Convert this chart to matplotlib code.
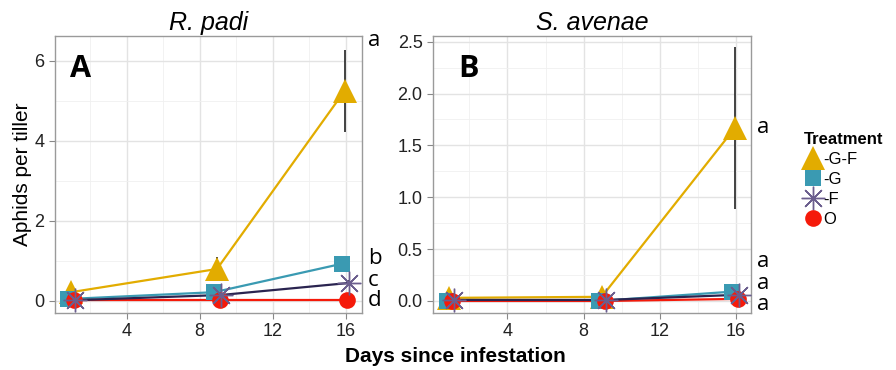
import numpy as np
import matplotlib
matplotlib.use('Agg')
from matplotlib import pyplot as plt
from matplotlib.lines import Line2D
from matplotlib import transforms

plt.rcParams['font.family'] = ['Liberation Sans', 'DejaVu Sans']

# Dati
days = [1, 9, 16]
treatments = ['-G-F', '-G', '-F', 'O']

padi_mean = {'-G-F': [0.22, 0.80, 5.25], '-G': [0.05, 0.22, 0.93],
             '-F': [0.02, 0.15, 0.45], 'O': [0.02, 0.02, 0.02]}
padi_err = {'-G-F': [0.05, 0.30, 1.03], '-G': [0.02, 0.05, 0.15],
            '-F': [0.02, 0.05, 0.08], 'O': [0.01, 0.01, 0.01]}
avenae_mean = {'-G-F': [0.03, 0.04, 1.67], '-G': [0.00, 0.00, 0.09],
               '-F': [0.01, 0.01, 0.06], 'O': [0.00, 0.00, 0.02]}
avenae_err = {'-G-F': [0.01, 0.02, 0.78], '-G': [0.01, 0.01, 0.06],
              '-F': [0.01, 0.01, 0.05], 'O': [0.00, 0.00, 0.01]}

padi_letters = ['a', 'b', 'c', 'd']
padi_letter_y = [6.5, 1.05, 0.5, 0.02]
avenae_letters = ['a', 'a', 'a', 'a']
avenae_letter_y = [1.67, 0.38, 0.17, -0.03]

# Stili
colors = {'-G-F': '#E2AC00', '-G': '#3A9AB2', '-F': '#6B5E8E', 'O': '#F51A0A'}
line_colors = {'-G-F': '#E2AC00', '-G': '#3A9AB2', '-F': '#2A2450', 'O': '#F51A0A'}
markers = {'-G-F': '^', '-G': 's', '-F': (8, 2, 0), 'O': 'o'}
msizes = {'-G-F': 17, '-G': 12, '-F': 17, 'O': 12}
dodge = {'-G-F': -0.05, '-G': -0.2, '-F': 0.18, 'O': 0.1}

W, H = 896, 370
fig = plt.figure(figsize=(W / 100, H / 100), dpi=100)
axA = fig.add_axes([55 / W, (H - 313) / H, (362 - 55) / W, (313 - 36) / H])
axB = fig.add_axes([433 / W, (H - 313) / H, (751 - 433) / W, (313 - 36) / H])


def draw_panel(ax, means, errs):
    for t in ['-G-F', '-G', 'O', '-F']:
        x = np.array(days) + dodge[t]
        ax.errorbar(x, means[t], yerr=errs[t], fmt='none', ecolor='#222222',
                    elinewidth=1.2, capsize=0, zorder=2)
        ax.plot(x, means[t], color=line_colors[t], lw=1.6, zorder=3)
    for i, t in enumerate(['-G-F', '-G', 'O', '-F']):
        x = np.array(days) + dodge[t]
        mew = 1.0 if t == '-F' else 0
        ax.plot(x, means[t], linestyle='none', marker=markers[t], ms=msizes[t],
                color=colors[t], mec=colors[t], mew=mew, zorder=4 + i)
    ax.set_xticks([4, 8, 12, 16])
    ax.set_xticks([2, 6, 10, 14], minor=True)
    ax.grid(True, which='major', color='#E3E3E3', lw=1.0)
    ax.grid(True, which='minor', color='#F0F0F0', lw=0.6)
    ax.set_axisbelow(True)
    for s in ax.spines.values():
        s.set_color('#9A9A9A')
        s.set_linewidth(1.0)
    ax.tick_params(which='major', labelsize=13, length=4, color='#888888',
                   labelcolor='#222222')
    ax.tick_params(which='minor', length=0)


draw_panel(axA, padi_mean, padi_err)
axA.set_xlim(0.07, 16.9)
axA.set_ylim(-0.3, 6.62)
axA.set_yticks([0, 2, 4, 6])
axA.set_yticks([1, 3, 5], minor=True)
axA.set_ylabel('Aphids per tiller', fontsize=15, labelpad=2)
axA.set_title('R. padi', fontsize=18, style='italic', pad=4)

draw_panel(axB, avenae_mean, avenae_err)
axB.set_xlim(0.09, 16.79)
axB.set_ylim(-0.116, 2.555)
axB.set_yticks([0.0, 0.5, 1.0, 1.5, 2.0, 2.5])
axB.set_yticks([0.25, 0.75, 1.25, 1.75, 2.25], minor=True)
axB.yaxis.set_major_formatter(matplotlib.ticker.FormatStrFormatter('%.1f'))
axB.set_title('S. avenae', fontsize=18, style='italic', pad=4)

# Lettere A / B
axA.text(0.05, 0.88, 'A', transform=axA.transAxes, fontsize=22, fontweight='bold',
         family=['Open Sans', 'DejaVu Sans'], va='center', ha='left')
axB.text(0.08, 0.88, 'B', transform=axB.transAxes, fontsize=22, fontweight='bold',
         family=['Open Sans', 'DejaVu Sans'], va='center', ha='left')

# Lettere di significativita
for ax, letters, ys in [(axA, padi_letters, padi_letter_y),
                        (axB, avenae_letters, avenae_letter_y)]:
    tr = transforms.blended_transform_factory(ax.transAxes, ax.transData)
    for l, y in zip(letters, ys):
        ax.text(1.02, y, l, transform=tr, fontsize=16, va='center', ha='left',
                family=['Open Sans', 'DejaVu Sans'], clip_on=False)

fig.text(455 / W, 1 - 356 / H, 'Days since infestation', fontsize=15,
         fontweight='bold', ha='center', va='center')

# Legenda
handles = [Line2D([], [], linestyle='none', marker=markers[t], ms=msizes[t],
                  color=colors[t], mec=colors[t], mew=1.0 if t == '-F' else 0)
           for t in treatments]
fig.legend(handles, treatments, title='Treatment', loc='upper left',
           bbox_to_anchor=(797 / W, 1 - 125 / H), frameon=False, fontsize=12,
           title_fontproperties={'weight': 'bold', 'size': 12},
           handlelength=1.1, handletextpad=0.1, labelspacing=0.3,
           borderaxespad=0, alignment='left')

fig.savefig('out.png', dpi=100)
